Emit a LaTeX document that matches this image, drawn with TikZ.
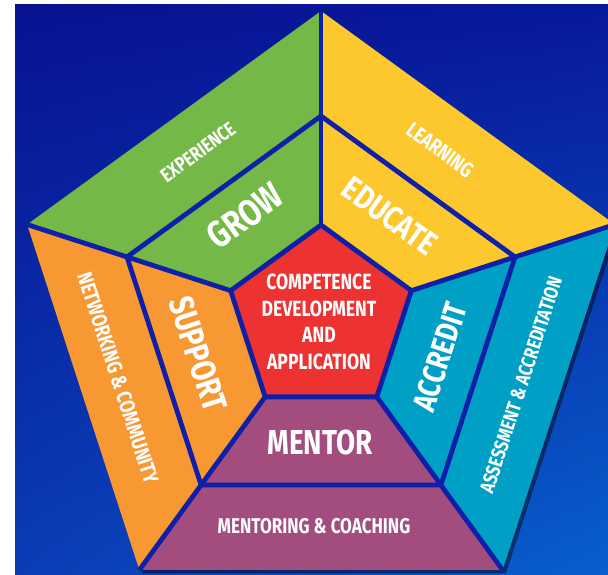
\documentclass[tikz,border=0pt]{standalone}
\usepackage{fontspec}
\setmainfont{Fira Sans}
\newfontfamily\lblfont{Fira Sans}[FakeStretch=0.8]
\usetikzlibrary{calc,shadings}

\definecolor{bgul}{RGB}{8,18,145}
\definecolor{bgur}{RGB}{8,24,155}
\definecolor{bgll}{RGB}{10,60,182}
\definecolor{bglr}{RGB}{8,95,205}
\definecolor{gapblue}{RGB}{15,32,168}
\definecolor{greenb}{RGB}{116,185,72}
\definecolor{yellowb}{RGB}{253,199,46}
\definecolor{orangeb}{RGB}{247,152,50}
\definecolor{cyanb}{RGB}{0,160,198}
\definecolor{purpleb}{RGB}{163,76,126}
\definecolor{redc}{RGB}{237,50,50}

\begin{document}
\begin{tikzpicture}[x=0.75pt, y=-0.75pt,
    bandtext/.style={text=white, inner sep=0pt, align=center,
      font=\lblfont\bfseries\fontsize{#1}{#1}\selectfont},
    sep/.style={draw=gapblue, line width=3.6pt, line join=miter}]
    % canvas
    \useasboundingbox (0,0) rectangle (608,575);
    \clip (0,0) rectangle (608,575);
    \shade[upper left=bgul, upper right=bgur, lower left=bgll, lower right=bglr]
    (15,4) rectangle (608,575);
    % main coordinates
    \coordinate (ctr) at (321,320);
    \foreach \k in {0,...,4} {
      \coordinate (in\k)  at ($(ctr)+(-90+72*\k:95)$);
      \coordinate (mid\k) at ($(ctr)+(-90+72*\k:204)$);
      \coordinate (out\k) at ($(ctr)+(-90+72*\k:309)$);
    }
    % drop shadow of the pentagon
    \fill[black, opacity=0.45, transform canvas={shift={(2.5pt,-2.5pt)}}]
    (out0) -- (out1) -- (out2) -- (out3) -- (out4) -- cycle;
    % sectors
    \foreach \k/\col in {0/yellowb,1/cyanb,2/purpleb,3/orangeb,4/greenb} {
      \pgfmathtruncatemacro\n{mod(\k+1,5)}
      \fill[\col] (mid\k) -- (out\k) -- (out\n) -- (mid\n) -- cycle;
      \fill[\col] (in\k) -- (mid\k) -- (mid\n) -- (in\n) -- cycle;
    }
    \fill[redc] (in0) -- (in1) -- (in2) -- (in3) -- (in4) -- cycle;
    % separators
    \draw[sep] (in0) -- (in1) -- (in2) -- (in3) -- (in4) -- cycle;
    \draw[sep] (mid0) -- (mid1) -- (mid2) -- (mid3) -- (mid4) -- cycle;
    \foreach \k in {0,...,4}
    \draw[sep] (in\k) -- (out\k);
    % outer band labels
    \node[bandtext=15, rotate=36]  (experience) at (198,152) {EXPERIENCE};
    \node[bandtext=16, rotate=-36] (learning)   at (440,150) {LEARNING};
    \node[bandtext=15, rotate=72]  (assess)     at (521,385) {ASSESSMENT \& ACCREDITATION};
    \node[bandtext=16]             (coaching)   at (314,526) {MENTORING \& COACHING};
    \node[bandtext=16, rotate=-72] (network)    at (118,378) {NETWORKING \& COMMUNITY};
    % inner band labels
    \node[bandtext=28, rotate=36]  (grow)     at (245,216) {GROW};
    \node[bandtext=25, rotate=-36] (educate)  at (390,216) {EDUCATE};
    \node[bandtext=24, rotate=72]  (accredit) at (440,357) {ACCREDIT};
    \node[bandtext=26]             (mentor)   at (320,442) {MENTOR};
    \node[bandtext=26, rotate=-72] (support)  at (198,354) {SUPPORT};
    % centre
    \node[bandtext=16.5] (core) at (319,322)
    {COMPETENCE\\[3.5pt]DEVELOPMENT\\[3.5pt]AND\\[3.5pt]APPLICATION};
\end{tikzpicture}
\end{document}
